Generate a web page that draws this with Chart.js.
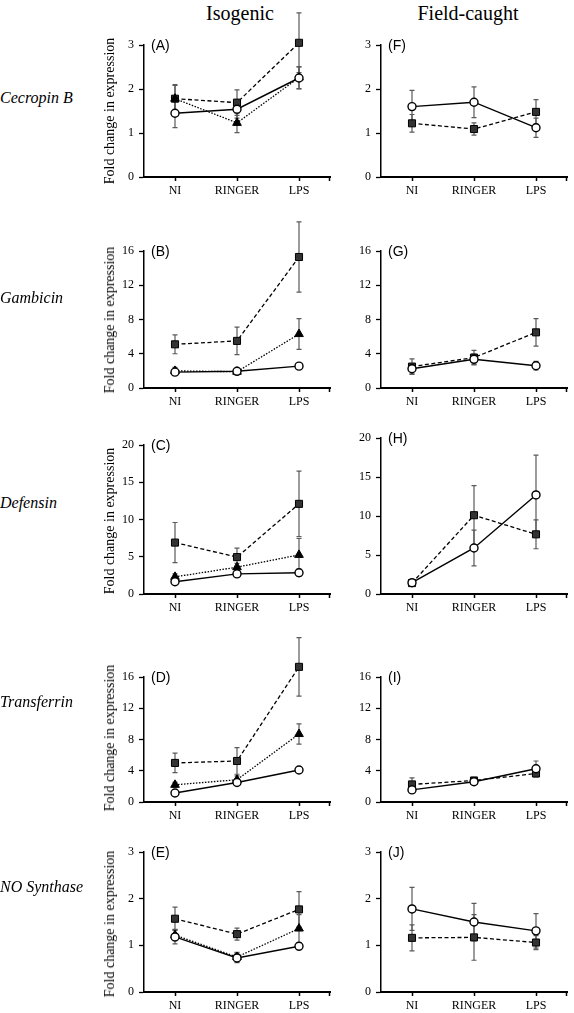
<!DOCTYPE html>
<html lang="en">
<head>
    <meta charset="UTF-8">
    <title>Fold change in expression - Isogenic vs Field-caught</title>
    <script src="https://cdn.jsdelivr.net/npm/chart.js"></script>
    <style>
        body {
            margin: 0;
            width: 574px;
            height: 1013px;
            position: relative;
            background: #fff;
            font-family: 'Liberation Serif', serif;
            overflow: hidden;
        }
        canvas { position: absolute; }
        .txt { position: absolute; white-space: nowrap; color: #000; }
        .col-title { font-size: 20px; transform: translate(-50%, -50%); }
        .gene { font-size: 16px; font-style: italic; transform: translateY(-50%); }
        .ytitle { font-size: 14px; transform: translate(-50%, -50%) rotate(-90deg); }
        .letter { font-family: 'Liberation Sans', sans-serif; font-size: 14px; line-height: 14px; }
    </style>
</head>
<body>
    <div class="txt col-title" style="left:240px; top:13px;">Isogenic</div>
    <div class="txt col-title" style="left:468px; top:13px;">Field-caught</div>

    <script>
        const categories = ["NI", "RINGER", "LPS"];

        // y-axis ranges per gene
        const yMax = [3, 16, 20, 16, 3];
        const yStep = [1, 4, 5, 4, 1];

        // Cecropin B
        const cecIsoSquare = [1.78, 1.69, 3.05], cecIsoSquareErr = [0.32, 0.29, 0.68];
        const cecIsoTri = [1.78, 1.23, 2.26], cecIsoTriErr = [0.30, 0.22, 0.25];
        const cecIsoCirc = [1.45, 1.54, 2.25], cecIsoCircErr = [0.33, 0.20, 0.25];
        const cecFieldCirc = [1.60, 1.70, 1.12], cecFieldCircErr = [0.37, 0.35, 0.22];
        const cecFieldSquare = [1.22, 1.09, 1.48], cecFieldSquareErr = [0.20, 0.14, 0.28];

        // Gambicin
        const gamIsoSquare = [5.1, 5.5, 15.3], gamIsoSquareErr = [1.1, 1.6, 4.1];
        const gamIsoTri = [2.0, 1.9, 6.3], gamIsoTriErr = [0.4, 0.3, 1.8];
        const gamIsoCirc = [1.85, 1.95, 2.55], gamIsoCircErr = [0.2, 0.2, 0.2];
        const gamFieldCirc = [2.25, 3.35, 2.6], gamFieldCircErr = [0.6, 0.6, 0.5];
        const gamFieldSquare = [2.5, 3.55, 6.5], gamFieldSquareErr = [0.9, 0.85, 1.6];

        // Defensin
        const defIsoSquare = [6.9, 4.95, 12.1], defIsoSquareErr = [2.7, 1.2, 4.4];
        const defIsoTri = [2.3, 3.6, 5.25], defIsoTriErr = [0.4, 0.5, 2.2];
        const defIsoCirc = [1.65, 2.7, 2.85], defIsoCircErr = [0.3, 0.4, 0.5];
        const defFieldCirc = [1.45, 5.9, 12.7], defFieldCircErr = [0.3, 2.3, 5.1];
        const defFieldSquare = [1.4, 10.1, 7.65], defFieldSquareErr = [0.3, 3.8, 1.85];

        // Transferrin
        const trfIsoSquare = [5.0, 5.25, 17.3], trfIsoSquareErr = [1.25, 1.7, 3.75];
        const trfIsoTri = [2.2, 2.85, 8.7], trfIsoTriErr = [0.3, 0.5, 1.3];
        const trfIsoCirc = [1.15, 2.5, 4.1], trfIsoCircErr = [0.2, 0.3, 0.3];
        const trfFieldCirc = [1.55, 2.6, 4.25], trfFieldCircErr = [0.3, 0.3, 1.0];
        const trfFieldSquare = [2.25, 2.75, 3.65], trfFieldSquareErr = [0.85, 0.4, 0.4];

        // NO Synthase
        const nosIsoSquare = [1.57, 1.24, 1.77], nosIsoSquareErr = [0.25, 0.13, 0.38];
        const nosIsoTri = [1.22, 0.75, 1.36], nosIsoTriErr = [0.12, 0.10, 0.30];
        const nosIsoCirc = [1.18, 0.73, 0.98], nosIsoCircErr = [0.15, 0.10, 0.08];
        const nosFieldCirc = [1.78, 1.50, 1.31], nosFieldCircErr = [0.46, 0.40, 0.37];
        const nosFieldSquare = [1.16, 1.17, 1.06], nosFieldSquareErr = [0.28, 0.49, 0.15];

        const geneNames = ["Cecropin B", "Gambicin", "Defensin", "Transferrin", "NO Synthase"];
        const isoLetters = ["(A)", "(B)", "(C)", "(D)", "(E)"];
        const fieldLetters = ["(F)", "(G)", "(H)", "(I)", "(J)"];

        // layout of the panels (pixels)
        const colAxisX = [144, 381];
        const plotW = 192;
        const rowTop = [[45, 45], [251, 251], [445, 438], [677, 677], [852, 852]];
        const rowBottom = [177, 388, 594, 802, 992];
        const geneLabelY = [98, 298, 503, 702, 887];
        const yTitleY = [111, 320, 521, 738, 924];
        const YW = 40, PT = 45, XH = 28;

        const FONT = "'Liberation Serif', serif";

        // error bars drawn below the lines
        const errorBars = {
            id: "errorBars",
            beforeDatasetsDraw(chart) {
                const ctx = chart.ctx;
                const yScale = chart.scales.y;
                ctx.save();
                ctx.strokeStyle = "#5a5a5a";
                ctx.lineWidth = 1.2;
                chart.data.datasets.forEach((ds, di) => {
                    const meta = chart.getDatasetMeta(di);
                    meta.data.forEach((pt, i) => {
                        const v = ds.data[i], e = ds.err[i];
                        const yt = yScale.getPixelForValue(v + e);
                        const yb = yScale.getPixelForValue(v - e);
                        ctx.beginPath();
                        ctx.moveTo(pt.x, yt); ctx.lineTo(pt.x, yb);
                        ctx.moveTo(pt.x - 2.5, yt); ctx.lineTo(pt.x + 2.5, yt);
                        ctx.moveTo(pt.x - 2.5, yb); ctx.lineTo(pt.x + 2.5, yb);
                        ctx.stroke();
                    });
                });
                // end tick of the x axis
                const a = chart.chartArea;
                ctx.strokeStyle = "#000";
                ctx.lineWidth = 1.5;
                ctx.beginPath();
                ctx.moveTo(a.right - 0.5, a.bottom);
                ctx.lineTo(a.right - 0.5, a.bottom + 4);
                ctx.stroke();
                ctx.restore();
            },
            // Chart.js skips markers above the axis max; draw those here
            afterDatasetsDraw(chart) {
                const ctx = chart.ctx;
                const a = chart.chartArea;
                chart.data.datasets.forEach((ds, di) => {
                    const meta = chart.getDatasetMeta(di);
                    meta.data.forEach(pt => {
                        if (pt.y >= a.top - 3) return;
                        ctx.save();
                        ctx.fillStyle = ds.pointBackgroundColor;
                        ctx.strokeStyle = ds.pointBorderColor;
                        ctx.lineWidth = ds.pointBorderWidth;
                        Chart.helpers.drawPoint(ctx, {
                            pointStyle: ds.pointStyle, radius: ds.pointRadius,
                            rotation: 0, borderWidth: ds.pointBorderWidth
                        }, pt.x, pt.y);
                        ctx.restore();
                    });
                });
            }
        };

        function circleSet(data, err) {
            return {
                data: data, err: err,
                borderColor: "#000", borderWidth: 1.4,
                pointStyle: "circle", pointRadius: 4,
                pointBackgroundColor: "#fff", pointBorderColor: "#000", pointBorderWidth: 1.4,
                tension: 0, clip: false
            };
        }
        function triSet(data, err) {
            return {
                data: data, err: err,
                borderColor: "#000", borderWidth: 1.3, borderDash: [1.5, 1.5],
                pointStyle: "triangle", pointRadius: 5,
                pointBackgroundColor: "#000", pointBorderColor: "#000", pointBorderWidth: 1,
                tension: 0, clip: false
            };
        }
        function squareSet(data, err) {
            return {
                data: data, err: err,
                borderColor: "#000", borderWidth: 1.3, borderDash: [4, 2.5],
                pointStyle: "rect", pointRadius: 5,
                pointBackgroundColor: "#333", pointBorderColor: "#000", pointBorderWidth: 1,
                tension: 0, clip: false
            };
        }

        function addText(cls, text, left, top) {
            const d = document.createElement("div");
            d.className = "txt " + cls;
            d.textContent = text;
            d.style.left = left + "px";
            d.style.top = top + "px";
            document.body.appendChild(d);
        }

        function makePanel(row, col, datasets) {
            const top = rowTop[row][col];
            const bottom = rowBottom[row];
            const canvas = document.createElement("canvas");
            const w = YW + plotW;
            const h = PT + (bottom - top) + XH;
            canvas.width = w;
            canvas.height = h;
            canvas.style.left = (colAxisX[col] - YW) + "px";
            canvas.style.top = (top - PT) + "px";
            canvas.style.width = w + "px";
            canvas.style.height = h + "px";
            document.body.appendChild(canvas);

            new Chart(canvas.getContext("2d"), {
                type: "line",
                data: { labels: categories, datasets: datasets },
                plugins: [errorBars],
                options: {
                    responsive: false,
                    animation: false,
                    devicePixelRatio: 1,
                    layout: { padding: { top: PT, left: 0, right: 0, bottom: 0 } },
                    plugins: { legend: { display: false }, tooltip: { enabled: false } },
                    scales: {
                        x: {
                            type: "category",
                            offset: true,
                            grid: { offset: false, drawOnChartArea: false, drawTicks: true, tickLength: 4, tickColor: "#000", tickWidth: 1.5 },
                            border: { display: true, color: "#000", width: 2 },
                            ticks: { color: "#000", font: { family: FONT, size: 12 }, padding: 3, maxRotation: 0, autoSkip: false },
                            afterFit(s) { s.height = XH; s.paddingLeft = 0; s.paddingRight = 0; }
                        },
                        y: {
                            min: 0, max: yMax[row],
                            grid: { drawOnChartArea: false, drawTicks: true, tickLength: 5, tickColor: "#000", tickWidth: 1.3 },
                            border: { display: true, color: "#000", width: 1.5 },
                            ticks: { stepSize: yStep[row], color: "#000", font: { family: FONT, size: 12 }, padding: 5 },
                            afterFit(s) { s.width = YW; s.paddingTop = 0; s.paddingBottom = 0; }
                        }
                    }
                }
            });

            const letters = col === 0 ? isoLetters : fieldLetters;
            addText("letter", letters[row], colAxisX[col] + 7, top - 7);
        }

        const isoSets = [
            [circleSet(cecIsoCirc, cecIsoCircErr), triSet(cecIsoTri, cecIsoTriErr), squareSet(cecIsoSquare, cecIsoSquareErr)],
            [circleSet(gamIsoCirc, gamIsoCircErr), triSet(gamIsoTri, gamIsoTriErr), squareSet(gamIsoSquare, gamIsoSquareErr)],
            [circleSet(defIsoCirc, defIsoCircErr), triSet(defIsoTri, defIsoTriErr), squareSet(defIsoSquare, defIsoSquareErr)],
            [circleSet(trfIsoCirc, trfIsoCircErr), triSet(trfIsoTri, trfIsoTriErr), squareSet(trfIsoSquare, trfIsoSquareErr)],
            [circleSet(nosIsoCirc, nosIsoCircErr), triSet(nosIsoTri, nosIsoTriErr), squareSet(nosIsoSquare, nosIsoSquareErr)]
        ];
        const fieldSets = [
            [circleSet(cecFieldCirc, cecFieldCircErr), squareSet(cecFieldSquare, cecFieldSquareErr)],
            [circleSet(gamFieldCirc, gamFieldCircErr), squareSet(gamFieldSquare, gamFieldSquareErr)],
            [circleSet(defFieldCirc, defFieldCircErr), squareSet(defFieldSquare, defFieldSquareErr)],
            [circleSet(trfFieldCirc, trfFieldCircErr), squareSet(trfFieldSquare, trfFieldSquareErr)],
            [circleSet(nosFieldCirc, nosFieldCircErr), squareSet(nosFieldSquare, nosFieldSquareErr)]
        ];

        for (let r = 0; r < 5; r++) {
            makePanel(r, 0, isoSets[r]);
            makePanel(r, 1, fieldSets[r]);
            addText("gene", geneNames[r], 0, geneLabelY[r]);
            addText("ytitle", "Fold change in expression", 110, yTitleY[r]);
        }
    </script>
</body>
</html>
